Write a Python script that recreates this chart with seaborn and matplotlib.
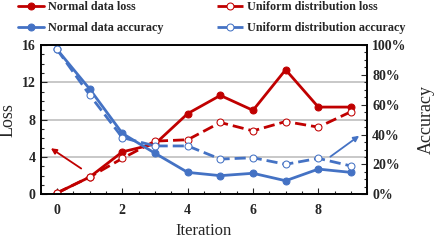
import numpy as np
import pandas as pd
import matplotlib
matplotlib.use("Agg")
import matplotlib.pyplot as plt
import seaborn as sns
from matplotlib.ticker import MultipleLocator, PercentFormatter

# values
iterations = list(range(10))
normal_loss = [0.15, 1.85, 4.55, 5.4, 8.65, 10.6, 9.0, 13.35, 9.35, 9.35]
uniform_loss = [0.15, 1.85, 3.85, 5.7, 5.85, 7.7, 6.8, 7.8, 7.2, 8.85]
normal_acc = [97, 70.5, 40.8, 27.5, 14.7, 12.5, 14.1, 9.1, 16.9, 14.7]
uniform_acc = [97, 66.5, 38.0, 32.4, 32.4, 23.6, 24.5, 20.1, 24.1, 19.0]

red = "#C00000"
blue = "#4472C4"

sns.set_style("ticks")
plt.rcParams["font.family"] = ["Liberation Serif", "DejaVu Serif"]

fig = plt.figure(figsize=(4.36, 2.42), dpi=100)
ax = fig.add_axes([0.0934, 0.197, 0.749, 0.617])
ax2 = ax.twinx()

dash = (0, (4, 1.8))
sns.lineplot(x=iterations, y=normal_loss, ax=ax, color=red, lw=2, marker="o",
             markersize=5, markeredgecolor=red, label="Normal data loss", legend=False)
sns.lineplot(x=iterations, y=uniform_loss, ax=ax, color=red, lw=2, marker="o",
             markersize=5, markerfacecolor="white", markeredgecolor=red, linestyle=dash,
             label="Uniform distribution loss", legend=False)
sns.lineplot(x=iterations, y=np.array(normal_acc) / 100, ax=ax2, color=blue, lw=2, marker="o",
             markersize=5, markeredgecolor=blue, label="Normal data accuracy", legend=False)
sns.lineplot(x=iterations, y=np.array(uniform_acc) / 100, ax=ax2, color=blue, lw=2, marker="o",
             markersize=5, markerfacecolor="white", markeredgecolor=blue, linestyle=dash,
             label="Uniform distribution accuracy", legend=False)

ax.set_xlim(-0.5, 9.5)
ax.set_ylim(0, 16)
ax2.set_ylim(0, 1)

ax.xaxis.set_major_locator(MultipleLocator(2))
ax.xaxis.set_minor_locator(MultipleLocator(0.5))
ax.yaxis.set_major_locator(MultipleLocator(4))
ax.yaxis.set_minor_locator(MultipleLocator(1))
ax2.yaxis.set_major_locator(MultipleLocator(0.2))
ax2.yaxis.set_minor_locator(MultipleLocator(0.05))
ax2.yaxis.set_major_formatter(PercentFormatter(1.0, decimals=0))

for a in (ax, ax2):
    a.tick_params(which="both", direction="in", labelsize=10, width=0.8)
    a.tick_params(which="major", length=4)
    a.tick_params(which="minor", length=2.5)
    for lab in a.get_xticklabels() + a.get_yticklabels():
        lab.set_fontweight("bold")
    for s in a.spines.values():
        s.set_linewidth(1.2)
        s.set_color("black")
ax.tick_params(axis="x", pad=7)

ax.yaxis.grid(True, which="major", color="#BFBFBF", lw=1.2)
ax.set_axisbelow(True)

ax.set_xlabel("Iteration", fontsize=12)
ax.set_ylabel("Loss", fontsize=13, labelpad=4)
ax2.set_ylabel("Accuracy", fontsize=13, labelpad=8)

# arrows pointing to the axis each colour belongs to
ax.annotate("", xy=(-0.26, 5.1), xytext=(0.81, 2.6),
            arrowprops=dict(arrowstyle="-|>", color=red, lw=1.3, mutation_scale=8))
ax.annotate("", xy=(9.32, 6.45), xytext=(8.3, 3.86),
            arrowprops=dict(arrowstyle="-|>", color=blue, lw=1.3, mutation_scale=8))

h1, l1 = ax.get_legend_handles_labels()
h2, l2 = ax2.get_legend_handles_labels()
handles = [h1[0], h2[0], h1[1], h2[1]]
labels = [l1[0], l2[0], l1[1], l2[1]]
fig.legend(handles, labels, ncol=2, loc="upper left", bbox_to_anchor=(0.038, 1.0),
           frameon=False, prop={"weight": "bold", "size": 8.7}, handlelength=2.2,
           handletextpad=0.3, columnspacing=4.4, labelspacing=0.75,
           borderpad=0.1, borderaxespad=0)

fig.savefig("out.png", dpi=100)
